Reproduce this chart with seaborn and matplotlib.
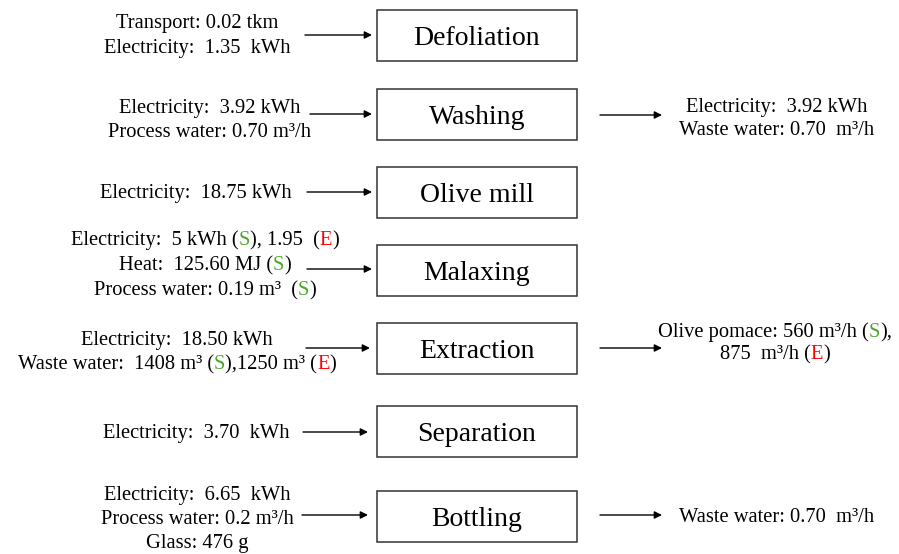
import re
import matplotlib
matplotlib.use("Agg")
import matplotlib.pyplot as plt
from matplotlib.patches import Rectangle
import seaborn as sns

sns.set_theme(style='white')
plt.rcParams['font.family'] = ['Liberation Serif', 'DejaVu Serif']
plt.rcParams['text.color'] = 'black'

# process steps and their flows; [S] / [E] mark coloured tags
steps = ['Defoliation', 'Washing', 'Olive mill', 'Malaxing',
         'Extraction', 'Separation', 'Bottling']

inputs = [
    ['Transport: 0.02 tkm', 'Electricity:  1.35  kWh'],
    ['Electricity:  3.92 kWh', 'Process water: 0.70 m³/h'],
    ['Electricity:  18.75 kWh'],
    ['Electricity:  5 kWh ([S]), 1.95  ([E])', 'Heat:  125.60 MJ ([S])',
     'Process water: 0.19 m³  ([S])'],
    ['Electricity:  18.50 kWh', 'Waste water:  1408 m³ ([S]),1250 m³ ([E])'],
    ['Electricity:  3.70  kWh'],
    ['Electricity:  6.65  kWh', 'Process water: 0.2 m³/h', 'Glass: 476 g'],
]

outputs = [
    [],
    ['Electricity:  3.92 kWh', 'Waste water: 0.70  m³/h'],
    [],
    [],
    ['Olive pomace: 560 m³/h ([S]),', '875  m³/h ([E])'],
    [],
    ['Waste water: 0.70  m³/h'],
]

tag_colors = {'[S]': '#4ea72e', '[E]': '#ff0000'}
tag_letters = {'[S]': 'S', '[E]': 'E'}

# layout (pixels)
box_top = [10, 89, 167, 245, 323, 406, 491]
box_h = 51
box_x0, box_x1 = 377, 577
in_cx = [197, 210, 196, 205, 177, 196, 197]
in_base = [[28, 53], [113, 137], [198], [245, 270, 295], [345, 369], [438], [500, 524, 548]]
in_arrow = [(305, 372, 35), (310, 372, 114), (307, 372, 192), (307, 372, 269),
            (306, 370, 348), (303, 368, 432), (302, 368, 515)]
out_cx = [None, 777, None, None, 775, None, 777]
out_base = [[], [112, 135], [], [], [337, 359], [], [522]]
out_arrow = [None, (600, 662, 115), None, None, (600, 662, 348), None, (600, 662, 515)]

fig = plt.figure(figsize=(8.99, 5.54), dpi=100)
ax = fig.add_axes([0, 0, 1, 1])
ax.set_xlim(0, 899)
ax.set_ylim(554, 0)
ax.axis('off')
renderer = fig.canvas.get_renderer()

FS = 14.8


def draw_line(line, cx, y):
    parts = [p for p in re.split(r'(\[S\]|\[E\])', line) if p]
    texts = []
    for p in parts:
        color = tag_colors.get(p, 'black')
        s = tag_letters.get(p, p)
        t = ax.text(0, y, s, fontsize=FS, color=color, ha='left', va='baseline')
        texts.append(t)
    widths = [t.get_window_extent(renderer).width for t in texts]
    x = cx - sum(widths) / 2
    for t, w in zip(texts, widths):
        t.set_x(x)
        x += w


def arrow(x0, x1, y):
    ax.annotate('', xy=(x1, y), xytext=(x0, y),
                arrowprops=dict(arrowstyle='-|>', color='black', lw=1,
                                mutation_scale=11, shrinkA=0, shrinkB=0))


for i, name in enumerate(steps):
    ax.add_patch(Rectangle((box_x0, box_top[i]), box_x1 - box_x0, box_h,
                           fill=False, edgecolor='#333333', lw=1.1))
    ax.text((box_x0 + box_x1) / 2, box_top[i] + 35, name, color='black',
            fontsize=20, ha='center', va='baseline')
    for line, yb in zip(inputs[i], in_base[i]):
        draw_line(line, in_cx[i], yb)
    arrow(*in_arrow[i])
    for line, yb in zip(outputs[i], out_base[i]):
        draw_line(line, out_cx[i], yb)
    if out_arrow[i]:
        arrow(*out_arrow[i])

fig.savefig('out.png', dpi=100, facecolor='white')
